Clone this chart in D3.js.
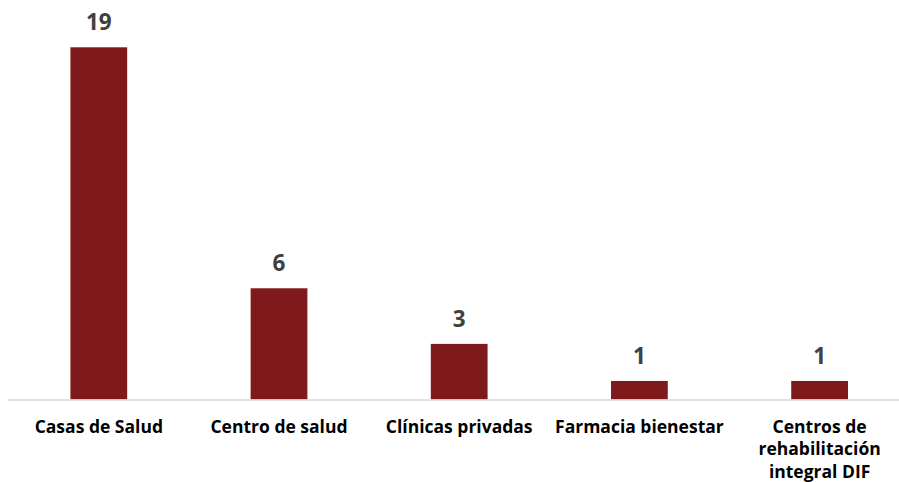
<!DOCTYPE html>
<html>
<head>
<meta charset="utf-8">
<script src="https://cdn.jsdelivr.net/npm/d3@7"></script>
<style>
  body { margin: 0; background: #fff; }
  .chart text { font-family: "Open Sans", "Noto Sans", sans-serif; font-weight: bold; }
</style>
</head>
<body>
<svg class="chart"></svg>
<script>
var categories = ["Casas de Salud", "Centro de salud", "Clínicas privadas", "Farmacia bienestar", "Centros de rehabilitación integral DIF"];
var values = [19, 6, 3, 1, 1];
var tickLines = [
  ["Casas de Salud"],
  ["Centro de salud"],
  ["Clínicas privadas"],
  ["Farmacia bienestar"],
  ["Centros de", "rehabilitación", "integral DIF"]
];

var width = 899, height = 482;
var baseline = 399.5;

var x = d3.scaleBand()
    .domain(categories)
    .range([8.7, 909.7])
    .paddingInner(0.685)
    .paddingOuter(0.3425);

var y = d3.scaleLinear()
    .domain([0, 19])
    .range([baseline, 47.3]);

var chart = d3.select(".chart")
    .attr("width", width)
    .attr("height", height);

chart.selectAll(".bar")
    .data(values)
    .enter().append("rect")
    .attr("class", "bar")
    .attr("x", function(d, i) { return x(categories[i]); })
    .attr("y", function(d) { return y(d); })
    .attr("width", x.bandwidth())
    .attr("height", function(d) { return y(0) - y(d); })
    .attr("fill", "#7f1a1c");

// axis line
chart.append("line")
    .attr("x1", 8)
    .attr("x2", width)
    .attr("y1", baseline + 0.5)
    .attr("y2", baseline + 0.5)
    .attr("stroke", "#d9d9d9")
    .attr("stroke-width", 1.5);

chart.selectAll(".val")
    .data(values)
    .enter().append("text")
    .attr("class", "val")
    .attr("x", function(d, i) { return x(categories[i]) + x.bandwidth() / 2; })
    .attr("y", function(d) { return y(d) - 17; })
    .attr("text-anchor", "middle")
    .attr("fill", "#404040")
    .style("font-size", "22.5px")
    .text(function(d) { return d; });

var labels = chart.selectAll(".cat")
    .data(tickLines)
    .enter().append("text")
    .attr("class", "cat")
    .attr("text-anchor", "middle")
    .attr("fill", "#000")
    .style("font-size", "17.5px")
    .attr("transform", function(d, i) {
      return "translate(" + (x(categories[i]) + x.bandwidth() / 2) + "," + 432.5 + ")";
    });

labels.selectAll("tspan")
    .data(function(d) { return d; })
    .enter().append("tspan")
    .attr("x", 0)
    .attr("y", function(d, i) { return i * 22.7; })
    .text(function(d) { return d; });
</script>
</body>
</html>
